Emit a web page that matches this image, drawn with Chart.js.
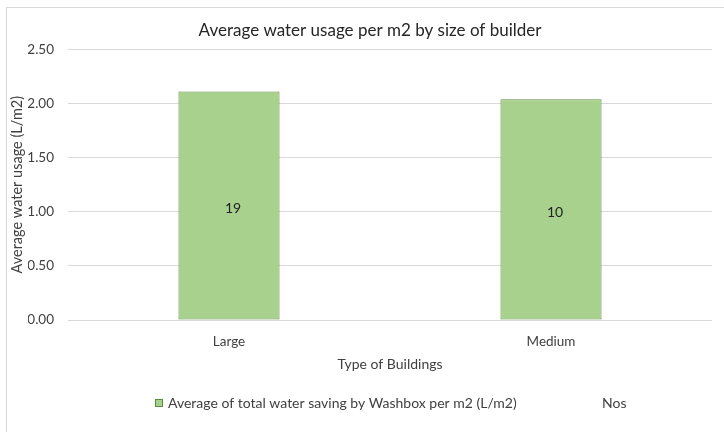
<!DOCTYPE html>
<html>
<head>
<meta charset="utf-8">
<script src="https://cdn.jsdelivr.net/npm/chart.js@4.4.0/dist/chart.umd.min.js"></script>
<style>
  html, body { margin: 0; padding: 0; background: #fff; }
  .div_chart { width: 724px; height: 432px; }
</style>
</head>
<body>
<div class="div_chart"><canvas class="chart"></canvas></div>
<script>
const categories = ['Large', 'Medium'];
const waterSaving = [2.11, 2.04];
const nosCounts = [19, 10];
const seriesLabel = 'Average of total water saving by Washbox per m2 (L/m2)';
const nosLabel = 'Nos';
const yTicks = [0, 0.5, 1, 1.5, 2, 2.5];

const textColor = '#404040';
const barFill = '#a9d18e';
const barBorder = '#5b8c3e';
const font = 'Lato';

// light frame round the chart (only left and top show in the picture)
const framePlugin = {
	id: 'frame',
	beforeDraw: (chart) => {
		const ctx = chart.ctx;
		ctx.save();
		ctx.fillStyle = '#fff';
		ctx.fillRect(0, 0, chart.width, chart.height);
		ctx.strokeStyle = '#d9d9d9';
		ctx.lineWidth = 1;
		ctx.strokeRect(6.5, 7.5, chart.width + 20, chart.height + 20);
		ctx.restore();
	},
};

// "Nos" counts written inside each bar
const countLabels = {
	id: 'countLabels',
	afterDatasetsDraw: (chart) => {
		const ctx = chart.ctx;
		const meta = chart.getDatasetMeta(0);
		ctx.save();
		ctx.font = `14px ${font}`;
		ctx.fillStyle = '#222';
		ctx.textAlign = 'center';
		ctx.textBaseline = 'middle';
		meta.data.forEach((bar, i) => {
			ctx.fillText(String(nosCounts[i]), bar.x + 4, (bar.y + bar.base) / 2 + 3);
		});
		ctx.restore();
	},
};

// legend drawn by hand so the two entries sit where they do in the picture
const bottomLegend = {
	id: 'bottomLegend',
	afterDraw: (chart) => {
		const ctx = chart.ctx;
		const y = 403;
		ctx.save();
		ctx.font = `14px ${font}`;
		ctx.textBaseline = 'middle';
		ctx.textAlign = 'left';
		ctx.fillStyle = barFill;
		ctx.fillRect(155, y - 4, 8, 8);
		ctx.strokeStyle = barBorder;
		ctx.lineWidth = 1;
		ctx.strokeRect(155.5, y - 3.5, 7, 7);
		ctx.fillStyle = textColor;
		ctx.fillText(seriesLabel, 168, y);
		ctx.fillText(nosLabel, 602, y);
		ctx.restore();
	},
};

const ctx = document.querySelector('.chart');
new Chart(ctx, {
	type: 'bar',
	data: {
		labels: categories,
		datasets: [
			{
				label: seriesLabel,
				data: waterSaving,
				backgroundColor: barFill,
				borderColor: barBorder,
				borderWidth: 1,
				borderSkipped: false,
				categoryPercentage: 1,
				barPercentage: 0.314,
			},
		],
	},
	options: {
		responsive: true,
		maintainAspectRatio: false,
		animation: false,
		layout: {
			padding: { left: 28, right: 12, top: 0, bottom: 54 },
		},
		plugins: {
			legend: { display: false },
			tooltip: { enabled: false },
			title: {
				display: true,
				text: 'Average water usage per m2 by size of builder',
				color: '#262626',
				font: { family: font, size: 17, weight: 'normal' },
				padding: { top: 20, bottom: 9 },
			},
		},
		scales: {
			x: {
				grid: { display: false },
				border: { display: false },
				ticks: {
					color: textColor,
					font: { family: font, size: 13.5 },
					padding: 6,
				},
				title: {
					display: true,
					text: 'Type of Buildings',
					color: textColor,
					font: { family: font, size: 14 },
					padding: { top: 0, bottom: 5 },
				},
				afterFit: (scale) => {
					scale.height = 58;
				},
			},
			y: {
				min: 0,
				max: 2.5,
				afterBuildTicks: (scale) => {
					scale.ticks = yTicks.map((v) => ({ value: v }));
				},
				grid: {
					color: '#d9d9d9',
					drawTicks: false,
				},
				border: { display: false },
				ticks: {
					color: textColor,
					font: { family: font, size: 13.5 },
					padding: 14,
					callback: (v) => Number(v).toFixed(2),
				},
				title: {
					display: true,
					text: 'Average water usage (L/m2)',
					color: textColor,
					font: { family: font, size: 14.5 },
					padding: { top: -19, bottom: 0 },
				},
				afterFit: (scale) => {
					scale.width = 40;
				},
			},
		},
	},
	plugins: [framePlugin, countLabels, bottomLegend],
});
</script>
</body>
</html>
